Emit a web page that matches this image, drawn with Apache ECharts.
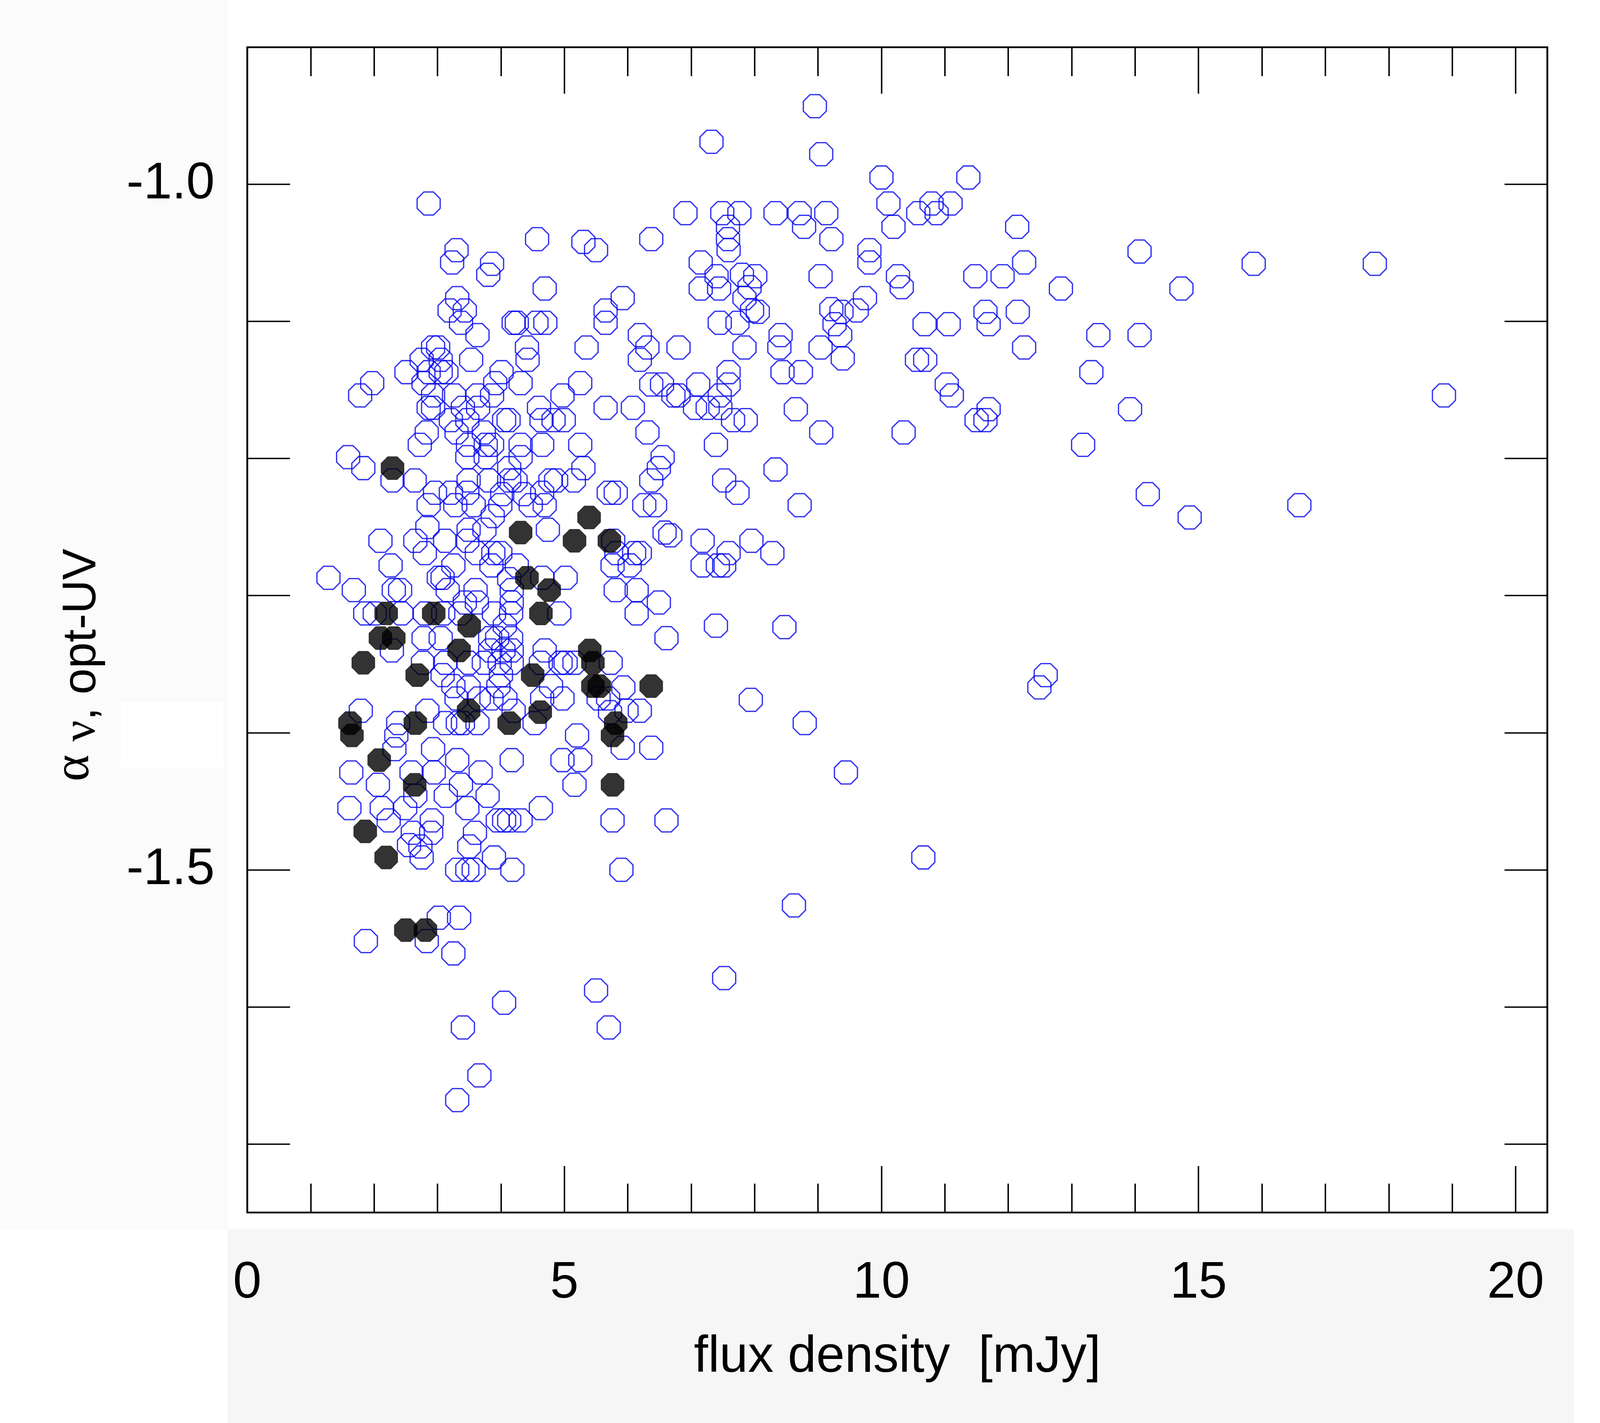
<!DOCTYPE html>
<html>
<head>
<meta charset="utf-8">
<script src="https://cdn.jsdelivr.net/npm/echarts@6/dist/echarts.min.js"></script>
<style>
html, body { margin: 0; padding: 0; background: #fff; overflow: hidden; }
#main { width: 100vw; height: 100vh; }
</style>
</head>
<body>
<div id="main"></div>
<script>
// tick and label values
var xLabelValues = [0, 5, 10, 15, 20];
var xMajorTicks = [5, 10, 15, 20];
var xMinorTicks = [1, 2, 3, 4, 6, 7, 8, 9, 11, 12, 13, 14, 16, 17, 18, 19];
var yTickValues = [-1.7, -1.6, -1.5, -1.4, -1.3, -1.2, -1.1, -1.0];
var yLabelValues = [-1.5, -1.0];

// filled black points [flux, alpha]
var blackPoints = [
  [2.29, -1.207], [4.31, -1.254], [5.39, -1.243], [5.16, -1.260], [5.71, -1.260],
  [4.41, -1.287], [4.76, -1.296], [2.19, -1.313], [2.94, -1.313], [4.63, -1.313],
  [3.50, -1.322], [2.10, -1.331], [2.31, -1.331], [1.83, -1.349], [3.34, -1.340],
  [5.40, -1.340], [5.45, -1.349], [2.68, -1.358], [4.50, -1.358], [5.45, -1.366],
  [5.55, -1.366], [6.37, -1.366], [3.49, -1.384], [4.62, -1.385], [1.62, -1.393],
  [1.65, -1.402], [2.65, -1.393], [4.13, -1.393], [5.81, -1.393], [5.76, -1.402],
  [2.08, -1.420], [2.64, -1.438], [5.76, -1.438], [1.86, -1.472], [2.19, -1.491],
  [2.50, -1.544], [2.81, -1.544]
];

// open blue points [flux, alpha]
var bluePoints = [
  [8.95, -0.943], [7.32, -0.969], [9.05, -0.978], [2.86, -1.014], [10.0, -0.995],
  [11.37, -0.995], [10.11, -1.014], [6.91, -1.021], [7.49, -1.021], [7.76, -1.021],
  [8.33, -1.021], [8.71, -1.021], [9.13, -1.021], [10.79, -1.014], [10.87, -1.021],
  [10.58, -1.021], [11.09, -1.014], [7.58, -1.031], [7.58, -1.040], [7.59, -1.048],
  [8.78, -1.031], [9.21, -1.040], [10.19, -1.031], [12.14, -1.031], [4.57, -1.040],
  [6.37, -1.040], [5.30, -1.042], [5.50, -1.048], [3.30, -1.048], [3.23, -1.057],
  [3.86, -1.058], [9.81, -1.048], [9.81, -1.057], [7.15, -1.057], [7.40, -1.067],
  [8.01, -1.067], [9.04, -1.067], [10.26, -1.067], [10.32, -1.075], [11.48, -1.067],
  [11.91, -1.067], [12.25, -1.057], [14.07, -1.049], [15.87, -1.058], [17.78, -1.058],
  [3.80, -1.066], [4.69, -1.076], [7.15, -1.076], [7.44, -1.076], [7.80, -1.066],
  [7.92, -1.075], [12.83, -1.076], [14.73, -1.076],

  [3.31, -1.083], [3.19, -1.092], [3.43, -1.092], [3.37, -1.101], [5.92, -1.083],
  [7.84, -1.083], [7.96, -1.092], [8.05, -1.093], [9.74, -1.083], [9.21, -1.091],
  [9.37, -1.093], [9.61, -1.092], [11.64, -1.093], [12.15, -1.093], [5.65, -1.092],
  [5.65, -1.101], [4.20, -1.101], [4.25, -1.101], [4.56, -1.101], [4.70, -1.101],
  [3.63, -1.110], [7.45, -1.101], [7.73, -1.101], [10.68, -1.102], [11.06, -1.102],
  [11.69, -1.102], [9.26, -1.102], [9.35, -1.110], [6.19, -1.110], [8.41, -1.110],
  [13.42, -1.110], [14.07, -1.110],

  [5.35, -1.119], [6.80, -1.119], [7.84, -1.119], [8.39, -1.119], [9.04, -1.119],
  [9.39, -1.127], [10.56, -1.128], [10.69, -1.128], [12.25, -1.119], [6.31, -1.119],
  [6.19, -1.128], [4.41, -1.119], [4.42, -1.128], [2.93, -1.119], [3.01, -1.119],
  [2.75, -1.128], [3.05, -1.128], [3.53, -1.128], [2.51, -1.137], [2.86, -1.137],
  [3.05, -1.137], [3.14, -1.137], [4.01, -1.137], [13.31, -1.137], [8.44, -1.137],
  [7.59, -1.137], [6.37, -1.146], [6.54, -1.146], [7.11, -1.146], [7.59, -1.146],
  [8.73, -1.137], [11.03, -1.146], [11.11, -1.154], [5.25, -1.145], [4.31, -1.145],
  [4.97, -1.154], [1.97, -1.145], [1.78, -1.154], [2.78, -1.145], [2.93, -1.154],
  [3.26, -1.154], [3.63, -1.154], [3.91, -1.145], [3.86, -1.154],

  [4.60, -1.163], [4.64, -1.172], [4.83, -1.172], [4.99, -1.172], [4.12, -1.172],
  [4.05, -1.172], [3.64, -1.163], [3.40, -1.163], [3.47, -1.172], [2.93, -1.163],
  [2.86, -1.163], [3.21, -1.172], [3.30, -1.181], [3.73, -1.181], [6.72, -1.154],
  [6.80, -1.154], [7.26, -1.163], [7.46, -1.163], [7.06, -1.163], [7.45, -1.154],
  [5.65, -1.163], [6.08, -1.163], [7.66, -1.172], [7.86, -1.172], [8.65, -1.164],
  [18.87, -1.154], [11.50, -1.172], [11.69, -1.164], [11.64, -1.172], [13.92, -1.164],
  [6.31, -1.181], [9.05, -1.181], [10.35, -1.181], [7.39, -1.190], [13.18, -1.190],
  [2.72, -1.190], [3.86, -1.190], [4.31, -1.190], [4.65, -1.190], [5.25, -1.190],
  [3.48, -1.190], [3.76, -1.190], [1.59, -1.199], [1.83, -1.207], [2.83, -1.181],

  [3.47, -1.199], [3.76, -1.199], [4.31, -1.199], [6.55, -1.199], [6.49, -1.207],
  [5.30, -1.207], [8.33, -1.208], [4.13, -1.207], [3.49, -1.216], [2.64, -1.216],
  [2.29, -1.216], [2.96, -1.225], [3.21, -1.225], [3.47, -1.225], [3.81, -1.216],
  [4.13, -1.216], [4.23, -1.216], [4.78, -1.216], [4.87, -1.216], [5.15, -1.216],
  [4.02, -1.226], [4.36, -1.226], [4.65, -1.225], [5.70, -1.225], [5.81, -1.225],
  [6.37, -1.216], [7.52, -1.216], [7.73, -1.225], [14.20, -1.226], [8.71, -1.234],
  [16.59, -1.234], [14.86, -1.243], [6.26, -1.234], [6.43, -1.234], [2.86, -1.234],
  [3.28, -1.234], [3.57, -1.234], [3.99, -1.234], [4.47, -1.234], [4.69, -1.234],
  [3.87, -1.242],

  [2.84, -1.250], [3.49, -1.252], [3.74, -1.252], [4.74, -1.252], [6.67, -1.256],
  [6.58, -1.254], [7.18, -1.260], [7.95, -1.260], [6.19, -1.269], [6.10, -1.269],
  [6.03, -1.278], [2.10, -1.260], [2.65, -1.260], [2.80, -1.269], [3.12, -1.260],
  [3.47, -1.260], [3.62, -1.269], [3.88, -1.269], [3.85, -1.278], [3.25, -1.278],
  [2.26, -1.278], [4.25, -1.278], [3.99, -1.269], [4.13, -1.288], [5.02, -1.287],
  [5.76, -1.278], [5.77, -1.260], [7.59, -1.269], [7.18, -1.278], [7.42, -1.278],
  [7.52, -1.278], [8.28, -1.269], [1.28, -1.287], [1.68, -1.296], [2.31, -1.296],
  [2.41, -1.296], [3.08, -1.287], [3.02, -1.287], [3.16, -1.296], [3.60, -1.296],
  [4.17, -1.296], [4.65, -1.287], [5.81, -1.296], [6.14, -1.296], [5.82, -1.269],

  [1.86, -1.313], [2.01, -1.313], [2.43, -1.313], [2.80, -1.313], [3.09, -1.313],
  [3.36, -1.313], [3.43, -1.305], [3.62, -1.305], [3.89, -1.313], [4.16, -1.313],
  [4.17, -1.305], [4.06, -1.322], [4.92, -1.313], [6.14, -1.313], [6.49, -1.305],
  [7.39, -1.322], [8.47, -1.323], [2.78, -1.331], [3.05, -1.331], [3.83, -1.331],
  [3.94, -1.331], [4.16, -1.331], [6.61, -1.331], [2.28, -1.340], [3.83, -1.340],
  [4.04, -1.340], [4.17, -1.340], [4.69, -1.340], [2.77, -1.349], [3.12, -1.349],
  [3.49, -1.349], [3.73, -1.349], [3.98, -1.349], [4.17, -1.349], [4.63, -1.349],
  [4.94, -1.349], [5.02, -1.349], [5.16, -1.349], [5.73, -1.349],

  [3.08, -1.358], [4.00, -1.358], [3.25, -1.366], [3.49, -1.367], [3.96, -1.366],
  [4.79, -1.366], [3.30, -1.375], [3.65, -1.375], [3.85, -1.375], [4.07, -1.375],
  [4.65, -1.375], [4.97, -1.375], [5.54, -1.375], [5.69, -1.375], [5.98, -1.384],
  [6.19, -1.384], [5.72, -1.385], [5.93, -1.367], [12.49, -1.367], [12.59, -1.358],
  [7.94, -1.376], [1.79, -1.384], [2.84, -1.384], [4.20, -1.384], [2.38, -1.393],
  [3.12, -1.393], [3.32, -1.393], [3.40, -1.393], [3.63, -1.393], [4.53, -1.393],
  [8.79, -1.393], [5.20, -1.402], [2.35, -1.402],

  [6.37, -1.411], [5.92, -1.411], [4.97, -1.420], [5.25, -1.420], [2.32, -1.412],
  [2.93, -1.412], [3.31, -1.420], [4.17, -1.420], [1.64, -1.429], [2.59, -1.429],
  [2.94, -1.429], [3.68, -1.429], [5.16, -1.438], [9.44, -1.429], [2.06, -1.438],
  [3.37, -1.438], [3.13, -1.446], [2.65, -1.446], [3.79, -1.446], [4.63, -1.455],
  [1.61, -1.455], [2.12, -1.455], [2.49, -1.455], [3.47, -1.455], [2.23, -1.464],
  [2.91, -1.464], [3.95, -1.464], [4.05, -1.464], [4.13, -1.464], [4.31, -1.464],
  [5.76, -1.464], [6.61, -1.464], [2.61, -1.473], [2.90, -1.473], [3.59, -1.473],
  [2.55, -1.482], [2.73, -1.483], [3.50, -1.483], [3.89, -1.491], [2.75, -1.491],
  [10.66, -1.491], [3.31, -1.500], [3.47, -1.500], [3.57, -1.500], [4.18, -1.500],
  [5.90, -1.500],

  [8.62, -1.526], [3.02, -1.535], [3.34, -1.535], [1.87, -1.552], [2.83, -1.552],
  [3.25, -1.561], [7.52, -1.579], [5.50, -1.588], [4.05, -1.597], [3.40, -1.615],
  [5.70, -1.615], [3.66, -1.650], [3.31, -1.668]
];

var octagon = 'path://M29,0 L71,0 L100,29 L100,71 L71,100 L29,100 L0,71 L0,29 Z';
var textFont = 'Liberation Sans';

var chart = echarts.init(document.getElementById('main'), null, { renderer: 'canvas' });

// the layout was measured on a 4374 x 3644 picture; scale it to the real window
var sx = chart.getWidth() / 4374;
var sy = chart.getHeight() / 3644;
var s = Math.min(sx, sy);

function xAxisDef(pos, ticks, len, withLabels) {
  return {
    type: 'value', position: pos, min: 0, max: 20.5,
    axisLine: { show: false, onZero: false },
    splitLine: { show: false },
    axisTick: { inside: true, length: len * sy, customValues: ticks, lineStyle: { color: '#000', width: 4 * s } },
    axisLabel: withLabels ? {
      customValues: xLabelValues, margin: 116 * sy, fontSize: 140 * s, color: '#000', fontFamily: textFont
    } : { show: false }
  };
}

function yAxisDef(pos, withLabels) {
  return {
    type: 'value', position: pos, min: -1.75, max: -0.9,
    axisLine: { show: false, onZero: false },
    splitLine: { show: false },
    axisTick: { inside: true, length: 117 * sx, customValues: yTickValues, lineStyle: { color: '#000', width: 4 * s } },
    axisLabel: withLabels ? {
      customValues: yLabelValues, margin: 89 * sx, fontSize: 140 * s, color: '#000', fontFamily: textFont,
      formatter: function (v) { return v.toFixed(1); }
    } : { show: false }
  };
}

var option = {
  animation: false,
  backgroundColor: '#ffffff',
  grid: {
    left: 676 * sx, right: 144 * sx, top: 121 * sy, bottom: 539 * sy,
    show: true, backgroundColor: '#ffffff', borderColor: '#000', borderWidth: 5 * s
  },
  xAxis: [
    xAxisDef('bottom', xMinorTicks, 74, true),
    xAxisDef('bottom', xMajorTicks, 119, false),
    xAxisDef('top', xMinorTicks, 74, false),
    xAxisDef('top', xMajorTicks, 119, false)
  ],
  yAxis: [
    yAxisDef('left', true),
    yAxisDef('right', false)
  ],
  graphic: [
    { type: 'rect', z: -10, shape: { x: 0, y: 0, width: 622 * sx, height: 3148 * sy }, style: { fill: '#fbfbfb' } },
    { type: 'rect', z: -9, shape: { x: 330 * sx, y: 1798 * sy, width: 280 * sx, height: 168 * sy }, style: { fill: '#ffffff' } },
    { type: 'rect', z: -10, shape: { x: 622 * sx, y: 3148 * sy, width: 3681 * sx, height: 496 * sy }, style: { fill: '#f6f6f6' } },
    {
      type: 'text', x: 2453 * sx, y: 3477 * sy,
      style: {
        text: 'flux density  [mJy]', fontSize: 140 * s, fontFamily: textFont, fill: '#000',
        align: 'center', verticalAlign: 'middle'
      }
    },
    {
      type: 'text', x: 225 * sx, y: 1703 * sy, rotation: Math.PI / 2,
      style: {
        text: '{a|α} {n|ν}, opt-UV',
        fontSize: 128 * s, fontFamily: textFont, fill: '#000',
        align: 'center', verticalAlign: 'middle',
        rich: {
          a: { fontSize: 140 * s, fontFamily: 'Liberation Serif', padding: [0, 0, 40 * s, 0] },
          n: { fontSize: 128 * s, fontFamily: 'Liberation Serif' }
        }
      }
    }
  ],
  series: [
    {
      name: 'all', type: 'scatter', xAxisIndex: 0, yAxisIndex: 0,
      symbol: octagon, symbolSize: 63 * s,
      itemStyle: { color: 'rgba(0,0,0,0)', borderColor: '#0000ee', borderWidth: 3.5 * s },
      emphasis: { disabled: true },
      data: bluePoints, z: 2
    },
    {
      name: 'selected', type: 'scatter', xAxisIndex: 0, yAxisIndex: 0,
      symbol: octagon, symbolSize: 63 * s,
      itemStyle: { color: '#000000', borderColor: '#000000', borderWidth: 1 },
      emphasis: { disabled: true },
      data: blackPoints, z: 3
    }
  ]
};

chart.setOption(option);
window.onresize = function () {
  chart.resize();
};
</script>
</body>
</html>
